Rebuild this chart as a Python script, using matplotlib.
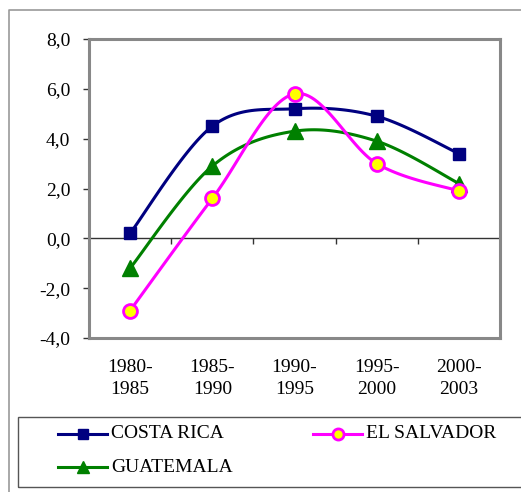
import matplotlib.pyplot as plt
import numpy as np
from matplotlib.lines import Line2D
from matplotlib.patches import Rectangle

plt.rcParams['font.family'] = ['Liberation Serif', 'DejaVu Serif']

periodos = ["1980-\n1985", "1985-\n1990", "1990-\n1995", "1995-\n2000", "2000-\n2003"]
costa_rica = [0.2, 4.5, 5.2, 4.9, 3.4]
el_salvador = [-2.9, 1.6, 5.8, 3.0, 1.9]
guatemala = [-1.2, 2.9, 4.3, 3.9, 2.2]
y_ticks = [-4, -2, 0, 2, 4, 6, 8]

W, H = 521, 492


def smooth(xs, ys, sx, sy, n=30):
    # excel-like smoothed line: catmull-rom bezier in screen units
    p = np.column_stack([np.asarray(xs, float) * sx, np.asarray(ys, float) * sy])
    pts = []
    for i in range(len(p) - 1):
        p0 = p[i - 1] if i > 0 else p[i]
        p1 = p[i]
        p2 = p[i + 1]
        p3 = p[i + 2] if i + 2 < len(p) else p[i + 1]
        b1 = p1 + (p2 - p0) / 6.0
        b2 = p2 - (p3 - p1) / 6.0
        t = np.linspace(0, 1, n)[:, None]
        seg = ((1 - t) ** 3) * p1 + 3 * ((1 - t) ** 2) * t * b1 + 3 * (1 - t) * t ** 2 * b2 + t ** 3 * p2
        pts.append(seg if i == 0 else seg[1:])
    pts = np.vstack(pts)
    return pts[:, 0] / sx, pts[:, 1] / sy


fig = plt.figure(figsize=(W / 100, H / 100), dpi=100)
ax = fig.add_axes([89 / W, 1 - 338 / H, 411 / W, 299 / H])

x = np.arange(len(periodos))
sx = 411 / 5.0
sy = 299 / 12.0

series = [
    ("COSTA RICA", costa_rica, dict(color="#000080", marker="s", ms=9, mfc="#000080", mec="#000080", mew=1)),
    ("GUATEMALA", guatemala, dict(color="#008000", marker="^", ms=11, mfc="#008000", mec="#008000", mew=1)),
    ("EL SALVADOR", el_salvador, dict(color="#FF00FF", marker="o", ms=10, mfc="#FFFF00", mec="#FF00FF", mew=2)),
]
for name, vals, st in series:
    xs, ys = smooth(x, vals, sx, sy)
    ax.plot(xs, ys, color=st["color"], lw=2.2, zorder=3)
    ax.plot(x, vals, ls="none", marker=st["marker"], ms=st["ms"], mfc=st["mfc"],
            mec=st["mec"], mew=st["mew"], zorder=4)

ax.set_xlim(-0.5, 4.5)
ax.set_ylim(-4, 8)
ax.axhline(0, color="#333333", lw=1, zorder=2)
ax.vlines(np.arange(0.5, 5, 1), -0.22, 0, color="#333333", lw=1, zorder=2)

ax.set_yticks(y_ticks)
ax.set_yticklabels([("%.1f" % v).replace(".", ",") for v in y_ticks], fontsize=14)
ax.set_xticks(x)
ax.set_xticklabels(periodos, fontsize=14, linespacing=1.4)
ax.tick_params(axis="x", length=0, pad=15)
ax.tick_params(axis="y", length=4.5, width=1, color="#333333", pad=9)
for s in ax.spines.values():
    s.set_color("#888888")
    s.set_linewidth(2.2)

# outer chart border
fig.add_artist(Line2D([9 / W, 9 / W, 1.05], [-0.05, 1 - 10 / H, 1 - 10 / H],
                      transform=fig.transFigure, color="#999999", lw=1.2))

# legend box and entries
fig.add_artist(Rectangle((18 / W, 1 - 487 / H), 1.0, (487 - 416.5) / H, transform=fig.transFigure,
                         fill=False, ec="#555555", lw=1))
pos = {"COSTA RICA": (58, 434), "GUATEMALA": (58, 467), "EL SALVADOR": (313, 434)}
for name, vals, st in series:
    px, py = pos[name]
    fy = 1 - py / H
    fig.add_artist(Line2D([px / W, (px + 24.5) / W, (px + 49) / W], [fy, fy, fy], transform=fig.transFigure,
                          color=st["color"], lw=2.2, marker=st["marker"], markevery=[1], ms=st["ms"] * 0.8,
                          mfc=st["mfc"], mec=st["mec"], mew=st["mew"]))
    fig.text((px + 53) / W, fy, name, fontsize=14, va="center", ha="left")

fig.savefig("out.png", dpi=100)
